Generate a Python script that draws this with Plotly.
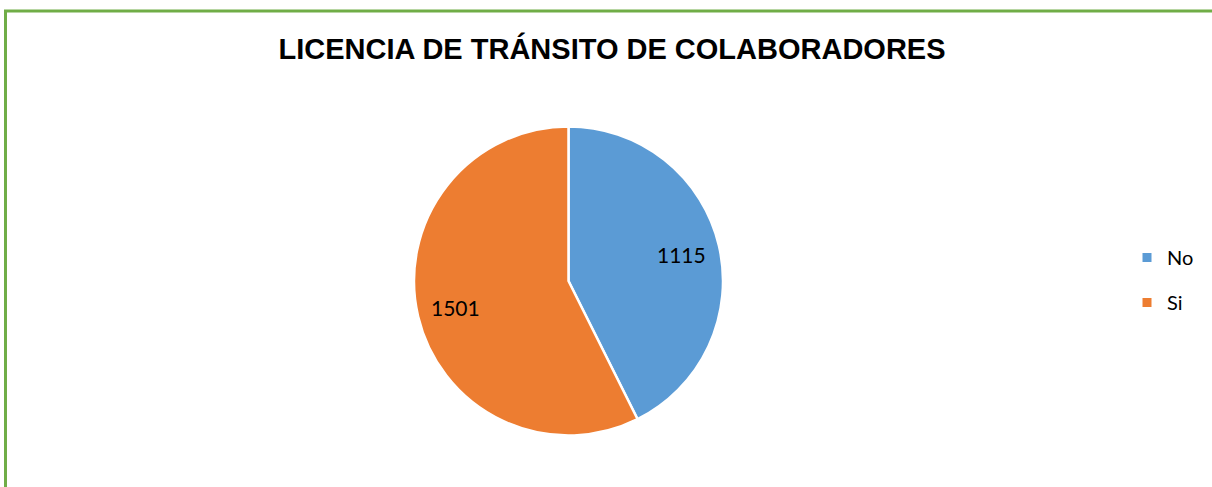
import math
import plotly.graph_objects as go

# Colaboradores con y sin licencia de tránsito
categorias = ["No", "Si"]
valores = [1115, 1501]
colores = ["#5B9BD5", "#ED7D31"]

titulo = "LICENCIA DE TRÁNSITO DE COLABORADORES"

W, H = 1212, 487

# Área del pastel (píxeles)
px0, px1, py0, py1 = 414, 723, 126, 436
cx, cy = (px0 + px1) / 2, (py0 + py1) / 2
radio = (py1 - py0) / 2

fig = go.Figure()
fig.add_trace(
    go.Pie(
        labels=categorias,
        values=valores,
        sort=False,
        direction="clockwise",
        rotation=0,
        marker=dict(colors=colores, line=dict(color="white", width=2.5)),
        textinfo="none",
        domain=dict(x=[px0 / W, px1 / W], y=[1 - py1 / H, 1 - py0 / H]),
        hoverinfo="label+value",
        showlegend=False,
    )
)

# Etiquetas de valor sobre el ángulo medio de cada porción
total = sum(valores)
acum = 0
for cat, val in zip(categorias, valores):
    medio = (acum + val / 2) / total * 2 * math.pi
    acum += val
    lx = cx + 0.75 * radio * math.sin(medio)
    ly = cy - 0.75 * radio * math.cos(medio)
    fig.add_annotation(
        x=lx / W, y=1 - ly / H, xref="paper", yref="paper",
        text=str(val), showarrow=False,
        xanchor="center", yanchor="middle",
        font=dict(family="Lato", size=21, color="black"),
    )

# Leyenda con marcadores cuadrados
for i, (cat, col) in enumerate(zip(categorias, colores)):
    fig.add_trace(
        go.Scatter(
            x=[None], y=[None], mode="markers", name=cat,
            marker=dict(symbol="square", size=9, color=col),
            legendgroup=f"g{i}", hoverinfo="skip",
        )
    )

# Marco verde alrededor del gráfico
fig.add_shape(
    type="rect",
    xref="paper", yref="paper",
    x0=5.5 / W, x1=1.05, y0=-0.05, y1=1 - 11 / H,
    line=dict(color="#70AD47", width=3),
    fillcolor="rgba(0,0,0,0)",
)

fig.update_layout(
    width=W,
    height=H,
    margin=dict(l=0, r=0, t=0, b=0),
    paper_bgcolor="white",
    plot_bgcolor="white",
    xaxis=dict(visible=False),
    yaxis=dict(visible=False),
    title=dict(
        text=f"<b>{titulo}</b>",
        x=612 / W,
        xanchor="center",
        y=1 - 49 / H,
        yanchor="middle",
        font=dict(family="Liberation Sans", size=29, color="black"),
    ),
    legend=dict(
        x=1127 / W,
        y=1 - 280 / H,
        xanchor="left",
        yanchor="middle",
        font=dict(family="Lato", size=20, color="black"),
        bgcolor="rgba(0,0,0,0)",
        itemwidth=30,
        traceorder="grouped",
        tracegroupgap=16,
    ),
    showlegend=True,
)

fig.write_html("out.html")
